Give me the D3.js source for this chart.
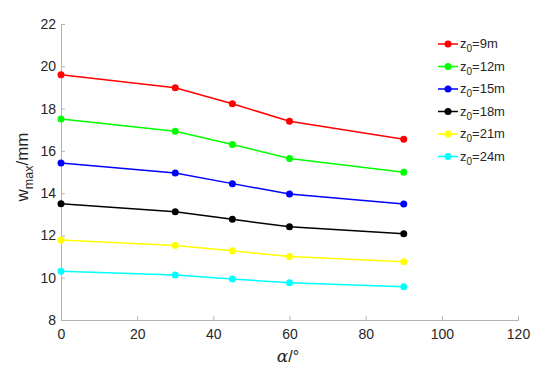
<!DOCTYPE html>
<html>
<head>
<meta charset="utf-8">
<script src="https://cdn.jsdelivr.net/npm/d3@7"></script>
<style>
  body { margin: 0; background: #fff; }
  svg text { font-family: "Liberation Sans", Arial, sans-serif; fill: #262626; }
</style>
</head>
<body>
<svg id="chart" width="550" height="372"></svg>
<script>
// angle alpha in degrees
var alphas = [0, 30, 45, 60, 90];

var seriesNames = ['9m', '12m', '15m', '18m', '21m', '24m'];
var seriesColors = ['#ff0000', '#00ff00', '#0000ff', '#000000', '#ffff00', '#00ffff'];

var z9 = [19.60, 18.98, 18.23, 17.40, 16.55];
var z12 = [17.51, 16.93, 16.30, 15.64, 14.99];
var z15 = [15.43, 14.95, 14.45, 13.96, 13.49];
var z18 = [13.50, 13.12, 12.76, 12.41, 12.08];
var z21 = [11.78, 11.52, 11.27, 11.00, 10.76];
var z24 = [10.31, 10.13, 9.94, 9.76, 9.57];

var allSeries = [z9, z12, z15, z18, z21, z24];

var xTicks = [0, 20, 40, 60, 80, 100, 120];
var yTicks = [8, 10, 12, 14, 16, 18, 20, 22];

var svg = d3.select('#chart');
var margin = { left: 61, top: 24, right: 550 - 518, bottom: 372 - 320 };
var width = 550 - margin.left - margin.right,
    height = 372 - margin.top - margin.bottom;

var g = svg.append('g').attr('transform', 'translate(' + margin.left + ',' + margin.top + ')');

var x = d3.scaleLinear().domain([0, 120]).range([0, width]);
var y = d3.scaleLinear().domain([8, 22]).range([height, 0]);

var axisColor = '#b3b3b3';

var xAxis = g.append('g')
  .attr('transform', 'translate(0,' + height + ')')
  .call(d3.axisBottom(x).tickValues(xTicks).tickSizeInner(-4).tickSizeOuter(0).tickPadding(9));
var yAxis = g.append('g')
  .call(d3.axisLeft(y).tickValues(yTicks).tickSizeInner(-4).tickSizeOuter(0).tickPadding(5));

[xAxis, yAxis].forEach(function(a) {
  a.select('.domain').attr('stroke', axisColor);
  a.selectAll('.tick line').attr('stroke', axisColor);
  a.selectAll('.tick text').style('font-size', '14px').attr('fill', '#262626');
});

var line = d3.line()
  .x(function(d, i) { return x(alphas[i]); })
  .y(function(d) { return y(d); });

allSeries.forEach(function(data, k) {
  g.append('path')
    .datum(data)
    .attr('fill', 'none')
    .attr('stroke', seriesColors[k])
    .attr('stroke-width', 1.5)
    .attr('d', line);
  g.selectAll('.pt' + k)
    .data(data)
    .enter().append('circle')
    .attr('cx', function(d, i) { return x(alphas[i]); })
    .attr('cy', function(d) { return y(d); })
    .attr('r', 3.5)
    .attr('fill', seriesColors[k]);
});

// axis titles
svg.append('text')
  .attr('x', 288).attr('y', 362)
  .attr('text-anchor', 'middle')
  .style('font-size', '16px')
  .html('<tspan font-family="DejaVu Serif, serif" font-style="italic" font-size="17px">α</tspan>/°');

var yl = svg.append('text')
  .attr('transform', 'translate(28,167) rotate(-90)')
  .attr('text-anchor', 'middle')
  .style('font-size', '17px');
yl.append('tspan').text('w');
yl.append('tspan').attr('dy', 5).style('font-size', '12.5px').text('max');
yl.append('tspan').attr('dy', -5).text('/mm');

// legend
var legend = svg.append('g').attr('transform', 'translate(438,44)');
seriesNames.forEach(function(name, k) {
  var row = legend.append('g').attr('transform', 'translate(0,' + (k * 22.5) + ')');
  row.append('line').attr('x1', 0).attr('x2', 20).attr('y1', 0).attr('y2', 0)
    .attr('stroke', seriesColors[k]).attr('stroke-width', 1.5);
  row.append('circle').attr('cx', 10).attr('cy', 0).attr('r', 3.5).attr('fill', seriesColors[k]);
  var t = row.append('text').attr('x', 22).attr('y', 4).style('font-size', '13px');
  t.append('tspan').text('z');
  t.append('tspan').attr('dy', 4).style('font-size', '10px').text('0');
  t.append('tspan').attr('dy', -4).text('=' + name);
});
</script>
</body>
</html>
